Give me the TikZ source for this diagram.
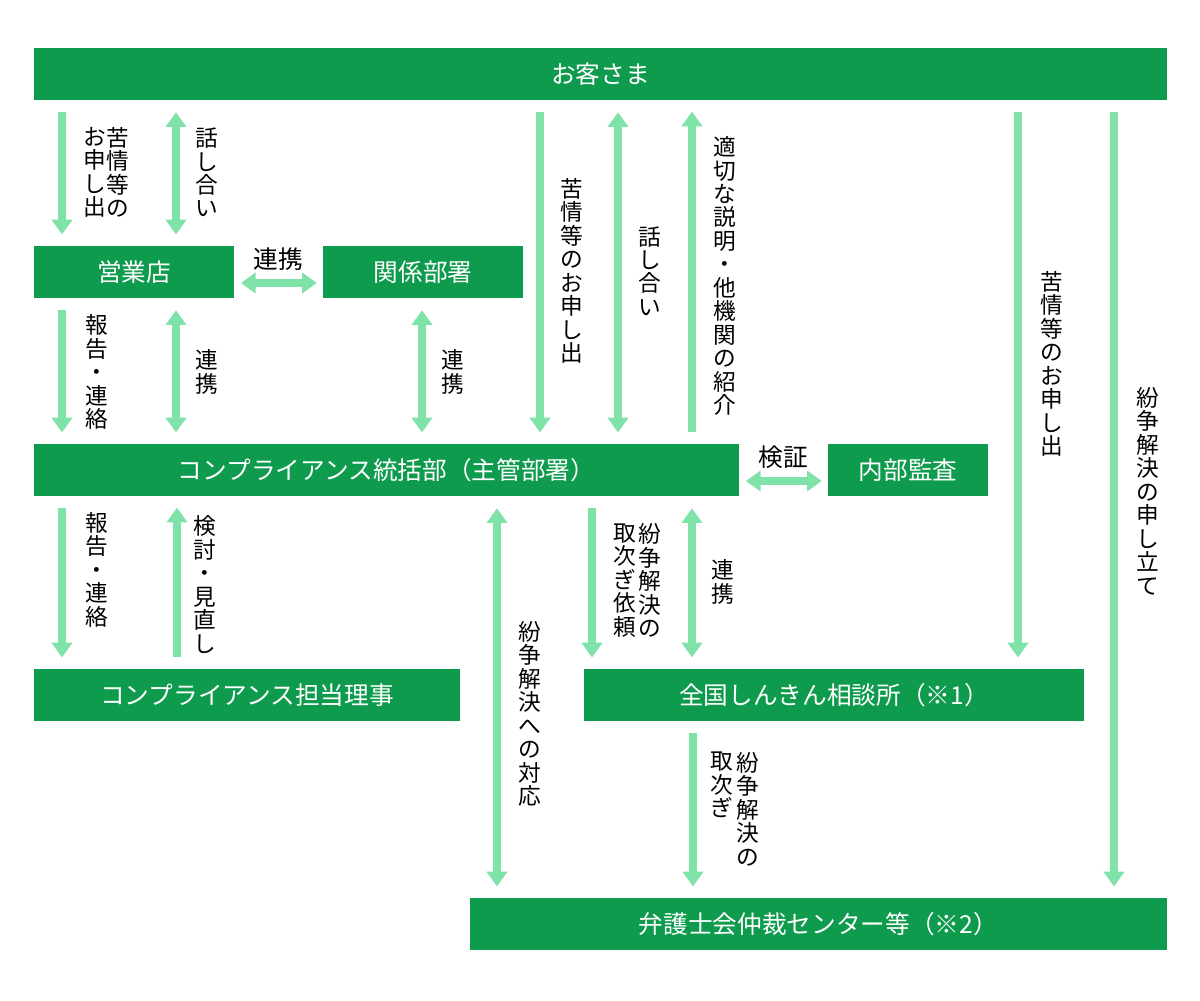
\documentclass[tikz,border=0pt]{standalone}
\usepackage{fontspec}
\setmainfont{Noto Sans CJK JP}
\usetikzlibrary{arrows.meta}
\definecolor{boxg}{HTML}{0E9B4D}
\definecolor{arrg}{HTML}{7FE2A9}
\newcommand\lblfont{\fontsize{18.5}{19}\selectfont}
\newcommand\vtfont{\fontsize{17}{17.6}\selectfont}
\begin{document}
\begin{tikzpicture}[x=0.75pt, y=-0.75pt,
  box/.style={fill=boxg, text=white, inner sep=0pt, minimum height=39pt, font=\lblfont},
  vt/.style={align=center, inner sep=0pt, font=\vtfont, text=black},
  lb/.style={inner sep=0pt, font=\lblfont, text=black},
  arr/.style={draw=arrg, line width=5.6pt, -{Triangle[width=15pt,length=11pt]}},
  darr/.style={draw=arrg, line width=5.6pt, {Triangle[width=15pt,length=11pt]}-{Triangle[width=15pt,length=11pt]}},
  vg/.style={shorten <=9pt, shorten >=8.5pt},
  hg/.style={shorten <=5pt, shorten >=4.5pt}]
\fill[white] (0,0) rectangle (1200,1000);
\useasboundingbox (0,0) rectangle (1200,1000);

% boxes
\node[box, minimum width=849.75pt] (kyaku) at (600.5,74) {お客さま};
\node[box, minimum width=150pt] (eigyo) at (134,272) {営業店};
\node[box, minimum width=150pt] (kankei) at (423,272) {関係部署};
\node[box, minimum width=528.75pt] (comp) at (386.5,470) {コンプライアンス統括部（主管部署）};
\node[box, minimum width=120pt] (naibu) at (908,470) {内部監査};
\node[box, minimum width=319.5pt] (riji) at (247,695) {コンプライアンス担当理事};
\node[box, minimum width=375pt] (zenkoku) at (834,695) {全国しんきん相談所（※1）};
\node[box, minimum width=522.75pt] (bengo) at (818.5,924) {弁護士会仲裁センター等（※2）};

% arrows
\draw[arr,vg] (62,0 |- kyaku.south) -- (62,0 |- eigyo.north);
\draw[darr,vg] (176,0 |- kyaku.south) -- (176,0 |- eigyo.north);
\draw[darr,hg] (eigyo.east |- 0,283) -- (kankei.west |- 0,283);
\draw[arr,vg] (62,0 |- eigyo.south) -- (62,0 |- comp.north);
\draw[darr,vg] (176,0 |- eigyo.south) -- (176,0 |- comp.north);
\draw[darr,vg] (422,0 |- kankei.south) -- (422,0 |- comp.north);
\draw[arr,vg] (540,0 |- kyaku.south) -- (540,0 |- comp.north);
\draw[darr,vg] (618,0 |- kyaku.south) -- (618,0 |- comp.north);
\draw[arr,vg] (692,0 |- comp.north) -- (692,0 |- kyaku.south);
\draw[arr,vg] (1018,0 |- kyaku.south) -- (1018,0 |- zenkoku.north);
\draw[arr,vg] (1114,0 |- kyaku.south) -- (1114,0 |- bengo.north);
\draw[darr,hg] (comp.east |- 0,481) -- (naibu.west |- 0,481);
\draw[arr,vg] (62,0 |- comp.south) -- (62,0 |- riji.north);
\draw[arr,vg] (177,0 |- riji.north) -- (177,0 |- comp.south);
\draw[darr,vg] (497,0 |- comp.south) -- (497,0 |- bengo.north);
\draw[arr,vg] (592,0 |- comp.south) -- (592,0 |- zenkoku.north);
\draw[darr,vg] (692,0 |- comp.south) -- (692,0 |- zenkoku.north);
\draw[arr,vg] (693,0 |- zenkoku.south) -- (693,0 |- bengo.north);

% horizontal labels
\node[lb] (l1) at (278,259) {連携};
\node[lb] (l2) at (783,457) {検証};

% vertical labels
\node[vt] (v1) at (118,172.5) {苦\\情\\等\\の};
\node[vt] (v2) at (95,172.5) {お\\申\\し\\出};
\node[vt] (v3) at (207,172.5) {話\\し\\合\\い};
\node[vt] (v4) at (97,372) {報\\告\\・\\連\\絡};
\node[vt] (v5) at (207,372) {連\\携};
\node[vt] (v6) at (453,372) {連\\携};
\node[vt] (v7) at (572,271) {苦\\情\\等\\の\\お\\申\\し\\出};
\node[vt] (v8) at (650,271) {話\\し\\合\\い};
\node[vt] (v9) at (725,276) {適\\切\\な\\説\\明\\・\\他\\機\\関\\の\\紹\\介};
\node[vt] (v10) at (1052,364) {苦\\情\\等\\の\\お\\申\\し\\出};
\node[vt] (v11) at (1148,491) {紛\\争\\解\\決\\の\\申\\し\\立\\て};
\node[vt] (v12) at (97,569.5) {報\\告\\・\\連\\絡};
\node[vt] (v13) at (205,584.5) {検\\討\\・\\見\\直\\し};
\node[vt] (v14) at (530,714) {紛\\争\\解\\決\\へ\\の\\対\\応};
\node[vt] (v15) at (650,580.5) {紛\\争\\解\\決\\の};
\node[vt] (v16) at (625,580.5) {取\\次\\ぎ\\依\\頼};
\node[vt] (v17) at (723,582) {連\\携};
\node[vt, anchor=north] (v18) at (748,752) {紛\\争\\解\\決\\の};
\node[vt, anchor=north] (v19) at (722,752) {取\\次\\ぎ};
\end{tikzpicture}
\end{document}
